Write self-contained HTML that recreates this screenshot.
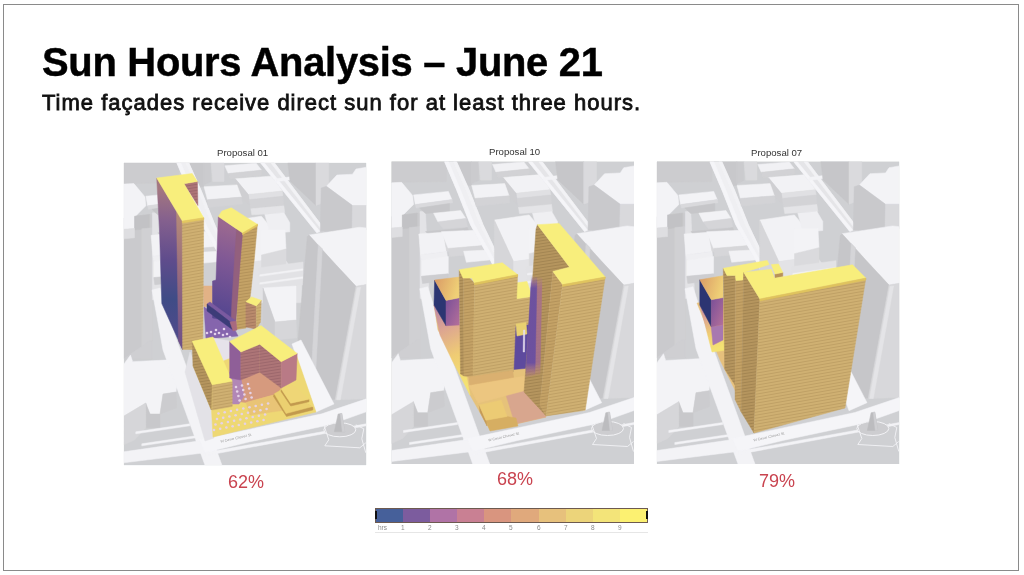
<!DOCTYPE html>
<html><head><meta charset="utf-8">
<style>
html,body{margin:0;padding:0;background:#fff;width:1024px;height:575px;overflow:hidden;}
body{position:relative;font-family:"Liberation Sans",Arial,sans-serif;}
.frame{position:absolute;left:3px;top:4px;width:1014px;height:565px;border:1px solid #8a8a8a;box-sizing:content-box;}
.ov{position:absolute;left:0;top:0;}
.t1{position:absolute;left:42px;top:41px;font-size:41.5px;letter-spacing:-0.3px;-webkit-text-stroke:0.45px #000;transform:scaleX(0.962);transform-origin:0 0;font-weight:bold;color:#000;white-space:nowrap;line-height:1;}
.t2{position:absolute;left:42px;top:92px;font-size:22px;letter-spacing:1.0px;font-weight:normal;-webkit-text-stroke:0.8px #111;color:#111;white-space:nowrap;line-height:1;}
.lbl{position:absolute;font-size:9.6px;color:#333;white-space:nowrap;line-height:1;}
.pct{position:absolute;font-size:18px;color:#c9434f;white-space:nowrap;line-height:1;}
.cb{position:absolute;left:375px;top:508px;width:273px;height:15px;display:flex;box-sizing:border-box;border:1px solid #6d5a50;}
.cb div{flex:1;}
.cbl{position:absolute;top:524.5px;font-size:6.5px;color:#8a8a8a;line-height:1;}
.cbline{position:absolute;left:375px;top:532px;width:273px;height:1px;background:#e6e6e6;}
</style></head><body>
<svg class="ov" width="1024" height="575" viewBox="0 0 1024 575"><defs>
<pattern id="tan" width="6" height="3" patternUnits="userSpaceOnUse" patternTransform="skewY(-10)"><rect width="6" height="3" fill="#cfb072"/><rect y="2" width="6" height="1" fill="#bfa065"/></pattern>
<pattern id="tan2" width="6" height="3" patternUnits="userSpaceOnUse" patternTransform="skewY(-9)"><rect width="6" height="3" fill="#c4a266"/><rect y="2" width="6" height="1" fill="#b3925a"/></pattern>
<pattern id="tanm" width="6" height="3" patternUnits="userSpaceOnUse" patternTransform="skewY(-9)"><rect width="6" height="3" fill="#ad7577"/><rect y="2" width="6" height="1" fill="#9c676c"/></pattern>
<linearGradient id="g1l" gradientUnits="userSpaceOnUse" x1="172" y1="190" x2="165" y2="330"><stop offset="0" stop-color="#a37680"/><stop offset="0.22" stop-color="#84608e"/><stop offset="0.5" stop-color="#5f4c8c"/><stop offset="0.78" stop-color="#3f4c86"/><stop offset="1" stop-color="#4c4a8a"/></linearGradient>
<linearGradient id="g1s" gradientUnits="userSpaceOnUse" x1="180" y1="215" x2="180" y2="345"><stop offset="0" stop-color="#b48a78"/><stop offset="0.5" stop-color="#94687e"/><stop offset="1" stop-color="#6e5088"/></linearGradient>
<linearGradient id="g2l" gradientUnits="userSpaceOnUse" x1="240" y1="230" x2="215" y2="310"><stop offset="0" stop-color="#9a6890"/><stop offset="0.4" stop-color="#7f5895"/><stop offset="1" stop-color="#574790"/></linearGradient>
<pattern id="tanb" width="6" height="3" patternUnits="userSpaceOnUse" patternTransform="skewY(-9)"><rect width="6" height="3" fill="#b98a6c"/><rect y="2" width="6" height="1" fill="#a67a60"/></pattern>
<pattern id="tand" width="6" height="3" patternUnits="userSpaceOnUse" patternTransform="skewY(-9)"><rect width="6" height="3" fill="#b5955e"/><rect y="2" width="6" height="1" fill="#a38552"/></pattern>
<linearGradient id="p2f" x1="0" y1="0" x2="1" y2="1"><stop offset="0" stop-color="#7a4f98"/><stop offset="1" stop-color="#b4709a"/></linearGradient>
<linearGradient id="p2r" x1="0" y1="0" x2="1" y2="0.3"><stop offset="0" stop-color="#d99a66"/><stop offset="1" stop-color="#efcf76"/></linearGradient>
<linearGradient id="p2p" x1="0" y1="0" x2="0" y2="1"><stop offset="0" stop-color="#8a5ea8" stop-opacity="0"/><stop offset="0.12" stop-color="#6a50a0" stop-opacity="0.95"/><stop offset="0.85" stop-color="#6a4fa0" stop-opacity="0.95"/><stop offset="1" stop-color="#b07090" stop-opacity="0"/></linearGradient>
<linearGradient id="p2m" x1="0" y1="0" x2="0" y2="1"><stop offset="0" stop-color="#b07a8a" stop-opacity="0"/><stop offset="0.12" stop-color="#a8708a" stop-opacity="0.85"/><stop offset="0.85" stop-color="#a06a90" stop-opacity="0.85"/><stop offset="1" stop-color="#c08080" stop-opacity="0"/></linearGradient>
<linearGradient id="p2pl" x1="0" y1="0" x2="0.2" y2="1"><stop offset="0" stop-color="#b884a8"/><stop offset="0.3" stop-color="#dca492"/><stop offset="0.65" stop-color="#efcc74"/><stop offset="1" stop-color="#f4e272"/></linearGradient>
<clipPath id="cp"><rect x="0" y="0" width="242.5" height="302.5"/></clipPath><clipPath id="cpp1"><rect x="123.8" y="162.8" width="242.5" height="302.5"/></clipPath><clipPath id="cpp2"><rect x="391.5" y="161.5" width="242.5" height="302.5"/></clipPath><clipPath id="cpp3"><rect x="656.8" y="161.5" width="242.5" height="302.5"/></clipPath></defs><g transform="translate(123.8,162.8)" clip-path="url(#cp)"><g><polygon points="0.0,0.0 242.5,0.0 242.5,302.5 0.0,302.5" fill="#cfd0d3" stroke="#cfd0d3" stroke-width="0.5" stroke-linejoin="round"/>
<polygon points="0.0,0.0 55.0,0.0 55.0,20.0 0.0,21.0" fill="#cccccf" stroke="#cccccf" stroke-width="0.5" stroke-linejoin="round"/>
<polygon points="0.0,55.2 11.7,53.4 26.0,51.5 28.5,52.0 28.5,196.0 0.0,196.0" fill="#cacacd" stroke="#cacacd" stroke-width="0.5" stroke-linejoin="round"/>
<polygon points="0.0,21.3 10.1,20.8 21.1,33.9 22.1,43.0 11.7,53.4 10.6,53.4 10.6,65.7 0.0,66.5" fill="#f3f3f6" stroke="#f3f3f6" stroke-width="0.5" stroke-linejoin="round"/>
<polygon points="10.8,53.4 25.6,51.7 25.6,65.6 10.8,67.3" fill="#c2c2c5" stroke="#c2c2c5" stroke-width="0.5" stroke-linejoin="round"/>
<polygon points="0.0,66.5 10.8,65.7 10.8,75.0 0.0,76.0" fill="#dedee1" stroke="#dedee1" stroke-width="0.5" stroke-linejoin="round"/>
<polygon points="18.0,66.0 28.5,65.0 28.5,196.0 18.0,196.0" fill="#d0d0d3" stroke="#d0d0d3" stroke-width="0.5" stroke-linejoin="round"/>
<polygon points="28.5,50.0 34.0,50.0 38.0,137.0 28.5,137.0" fill="#e3e3e6" stroke="#e3e3e6" stroke-width="0.5" stroke-linejoin="round"/>
<polygon points="55.0,0.0 80.0,0.0 80.0,24.0 64.0,24.0" fill="#c8c8cb" stroke="#c8c8cb" stroke-width="0.5" stroke-linejoin="round"/>
<polygon points="22.1,33.4 56.9,29.9 60.4,38.1 23.8,43.0" fill="#f3f3f6" stroke="#f3f3f6" stroke-width="0.5" stroke-linejoin="round"/>
<polygon points="23.8,43.0 60.4,38.1 61.2,41.2 24.7,46.5" fill="#d9d9dc" stroke="#d9d9dc" stroke-width="0.5" stroke-linejoin="round"/>
<polygon points="28.0,46.5 58.0,42.0 58.0,50.0 34.0,52.0" fill="#c6c6c9" stroke="#c6c6c9" stroke-width="0.5" stroke-linejoin="round"/>
<polygon points="42.1,51.7 69.1,49.1 74.3,56.9 46.5,60.4" fill="#f2f2f5" stroke="#f2f2f5" stroke-width="0.5" stroke-linejoin="round"/>
<polygon points="46.5,60.4 74.3,56.9 76.0,65.6 51.7,67.3" fill="#d5d5d8" stroke="#d5d5d8" stroke-width="0.5" stroke-linejoin="round"/>
<polygon points="34.0,70.0 70.0,67.0 76.0,66.0 78.0,72.0 40.0,75.0" fill="#c8c8cb" stroke="#c8c8cb" stroke-width="0.5" stroke-linejoin="round"/>
<polygon points="27.3,72.5 51.7,70.8 55.2,89.9 29.1,93.4" fill="#f2f2f5" stroke="#f2f2f5" stroke-width="0.5" stroke-linejoin="round"/>
<polygon points="51.7,70.8 72.0,69.0 76.0,88.0 55.2,89.9" fill="#d8d8db" stroke="#d8d8db" stroke-width="0.5" stroke-linejoin="round"/>
<polygon points="49.9,70.2 84.7,68.8 91.6,84.1 56.8,86.9" fill="#f3f3f6" stroke="#f3f3f6" stroke-width="0.5" stroke-linejoin="round"/>
<polygon points="56.8,86.9 91.6,84.1 92.0,92.0 58.0,95.0" fill="#d6d6d9" stroke="#d6d6d9" stroke-width="0.5" stroke-linejoin="round"/>
<polygon points="72.1,89.7 100.0,88.3 102.7,98.0 74.9,100.8" fill="#f2f2f5" stroke="#f2f2f5" stroke-width="0.5" stroke-linejoin="round"/>
<polygon points="29.1,93.4 55.2,89.9 56.0,96.0 30.0,99.0" fill="#efeff2" stroke="#efeff2" stroke-width="0.5" stroke-linejoin="round"/>
<polygon points="30.0,99.0 56.8,95.0 56.8,112.3 30.0,114.7" fill="#f2f2f5" stroke="#f2f2f5" stroke-width="0.5" stroke-linejoin="round"/>
<polygon points="30.0,114.7 56.8,112.3 56.8,119.0 31.0,122.0" fill="#cdcdd0" stroke="#cdcdd0" stroke-width="0.5" stroke-linejoin="round"/>
<polygon points="53.0,0.0 65.0,0.0 77.7,28.5 91.6,63.3 108.3,98.0 120.0,122.0 112.0,125.0 98.6,98.0 79.0,63.3 65.2,28.5" fill="#efeff2" stroke="#efeff2" stroke-width="0.5" stroke-linejoin="round"/>
<polygon points="53.0,0.0 57.0,0.0 69.0,28.5 83.0,63.3 102.6,98.0 116.0,125.0 112.0,125.0 98.6,98.0 79.0,63.3 65.2,28.5" fill="#f5f5f8" stroke="#f5f5f8" stroke-width="0.5" stroke-linejoin="round"/>
<polygon points="62.0,0.0 65.0,0.0 77.7,28.5 91.6,63.3 108.3,98.0 120.0,122.0 117.0,122.0 105.5,98.0 88.6,63.3 74.7,28.5" fill="#f2f2f5" stroke="#f2f2f5" stroke-width="0.5" stroke-linejoin="round"/>
<polygon points="80.0,0.0 87.0,0.0 87.0,19.0 80.0,22.0" fill="#cbcbce" stroke="#cbcbce" stroke-width="0.5" stroke-linejoin="round"/>
<polygon points="87.2,0.0 100.2,0.0 100.2,18.6 88.9,18.6" fill="#dadadd" stroke="#dadadd" stroke-width="0.5" stroke-linejoin="round"/>
<polygon points="101.0,3.0 132.4,0.4 137.6,7.3 104.5,10.8" fill="#f1f1f4" stroke="#f1f1f4" stroke-width="0.5" stroke-linejoin="round"/>
<polygon points="104.5,10.8 137.6,7.3 137.6,12.5 106.3,16.0" fill="#d2d2d5" stroke="#d2d2d5" stroke-width="0.5" stroke-linejoin="round"/>
<polygon points="111.5,16.0 149.8,13.1 158.5,28.2 124.5,31.7" fill="#f2f2f5" stroke="#f2f2f5" stroke-width="0.5" stroke-linejoin="round"/>
<polygon points="124.5,31.7 158.5,28.2 159.3,33.4 125.4,36.9" fill="#e0e0e3" stroke="#e0e0e3" stroke-width="0.5" stroke-linejoin="round"/>
<polygon points="111.5,16.0 124.5,31.7 125.4,36.9 126.0,43.0 112.0,30.0" fill="#cfcfd2" stroke="#cfcfd2" stroke-width="0.5" stroke-linejoin="round"/>
<polygon points="125.4,36.9 159.3,33.4 160.0,43.0 127.0,46.0" fill="#d3d3d6" stroke="#d3d3d6" stroke-width="0.5" stroke-linejoin="round"/>
<polygon points="80.2,23.9 113.2,22.1 117.6,34.3 83.7,36.9" fill="#f2f2f5" stroke="#f2f2f5" stroke-width="0.5" stroke-linejoin="round"/>
<polygon points="83.7,36.9 117.6,34.3 118.5,41.2 84.5,44.7" fill="#d3d3d6" stroke="#d3d3d6" stroke-width="0.5" stroke-linejoin="round"/>
<polygon points="127.0,46.0 160.0,43.0 161.0,50.0 128.0,52.0" fill="#e4e4e7" stroke="#e4e4e7" stroke-width="0.5" stroke-linejoin="round"/>
<polygon points="102.8,58.6 137.6,53.4 160.0,80.0 160.0,95.0 122.0,100.0" fill="#f2f2f5" stroke="#f2f2f5" stroke-width="0.5" stroke-linejoin="round"/>
<polygon points="102.8,58.6 122.0,100.0 122.0,140.0 103.0,110.0" fill="#d6d6d9" stroke="#d6d6d9" stroke-width="0.5" stroke-linejoin="round"/>
<polygon points="122.0,100.0 160.0,95.0 178.0,120.0 178.0,140.0 122.0,140.0" fill="#e3e3e6" stroke="#e3e3e6" stroke-width="0.5" stroke-linejoin="round"/>
<polygon points="141.0,51.7 160.2,50.0 166.0,60.0 166.0,69.0 146.3,70.8" fill="#efeff2" stroke="#efeff2" stroke-width="0.5" stroke-linejoin="round"/>
<polygon points="137.7,67.2 161.2,67.2 162.2,86.2 137.7,92.2" fill="#f3f3f6" stroke="#f3f3f6" stroke-width="0.5" stroke-linejoin="round"/>
<polygon points="137.7,92.2 162.2,86.2 162.2,105.2 137.7,113.2" fill="#dadadd" stroke="#dadadd" stroke-width="0.5" stroke-linejoin="round"/>
<polygon points="134.2,105.2 179.2,99.2 179.2,122.2 136.2,125.2" fill="#e2e2e5" stroke="#e2e2e5" stroke-width="0.5" stroke-linejoin="round"/>
<polygon points="136.0,112.0 179.0,106.0 179.0,107.5 136.0,113.5" fill="#f2f2f5" stroke="#f2f2f5" stroke-width="0.5" stroke-linejoin="round"/>
<polygon points="136.0,120.0 179.0,114.0 179.0,115.5 136.0,121.5" fill="#f2f2f5" stroke="#f2f2f5" stroke-width="0.5" stroke-linejoin="round"/>
<polygon points="139.2,125.2 172.2,123.2 172.2,157.2 151.2,159.2" fill="#f3f3f6" stroke="#f3f3f6" stroke-width="0.5" stroke-linejoin="round"/>
<polygon points="139.2,125.2 151.2,159.2 151.2,177.2 139.2,167.2" fill="#cdcdd0" stroke="#cdcdd0" stroke-width="0.5" stroke-linejoin="round"/>
<polygon points="151.2,159.2 172.2,157.2 173.0,175.0 151.2,177.2" fill="#d6d6d9" stroke="#d6d6d9" stroke-width="0.5" stroke-linejoin="round"/>
<polygon points="136.7,0.0 150.6,0.0 202.0,68.0 193.0,70.0" fill="#e5e5e8" stroke="#e5e5e8" stroke-width="0.5" stroke-linejoin="round"/>
<polygon points="136.7,0.0 140.5,0.0 196.0,68.5 193.0,70.0" fill="#f5f5f8" stroke="#f5f5f8" stroke-width="0.5" stroke-linejoin="round"/>
<polygon points="147.0,0.0 150.6,0.0 202.0,68.0 199.0,68.5" fill="#f2f2f5" stroke="#f2f2f5" stroke-width="0.5" stroke-linejoin="round"/>
<polygon points="152.0,16.0 174.0,13.0 174.0,16.0 152.0,19.0" fill="#f3f3f6" stroke="#f3f3f6" stroke-width="0.5" stroke-linejoin="round"/>
<polygon points="164.0,0.0 192.2,0.0 192.2,42.7 166.2,18.2" fill="#c6c6c9" stroke="#c6c6c9" stroke-width="0.5" stroke-linejoin="round"/>
<polygon points="192.2,0.0 205.0,0.0 205.0,38.0 192.2,42.7" fill="#dadadd" stroke="#dadadd" stroke-width="0.5" stroke-linejoin="round"/>
<polygon points="202.6,23.5 213.1,12.2 228.7,11.4 232.2,6.2 242.5,4.4 242.5,42.7 228.7,42.7" fill="#f3f3f6" stroke="#f3f3f6" stroke-width="0.5" stroke-linejoin="round"/>
<polygon points="197.4,25.2 202.6,23.5 228.7,42.7 228.2,69.2 196.5,68.8" fill="#c9c9cc" stroke="#c9c9cc" stroke-width="0.5" stroke-linejoin="round"/>
<polygon points="228.7,42.7 242.5,42.7 242.5,67.0 228.2,69.2" fill="#d9d9dc" stroke="#d9d9dc" stroke-width="0.5" stroke-linejoin="round"/>
<polygon points="185.2,72.2 235.7,64.4 242.5,65.2 242.5,121.8 232.2,123.5 209.6,99.2" fill="#f3f3f6" stroke="#f3f3f6" stroke-width="0.5" stroke-linejoin="round"/>
<polygon points="183.5,74.0 185.2,72.2 209.6,99.2 232.2,123.5 232.2,235.0 207.8,236.8 175.2,199.2 173.2,187.2" fill="#c6c6c9" stroke="#c6c6c9" stroke-width="0.5" stroke-linejoin="round"/>
<polygon points="194.5,82.0 198.5,86.0 190.5,236.0 186.5,230.0" fill="#d5d5d8" stroke="#d5d5d8" stroke-width="0.5" stroke-linejoin="round"/>
<polygon points="232.2,123.5 242.5,121.8 242.5,236.0 211.4,237.0" fill="#d8d8db" stroke="#d8d8db" stroke-width="0.5" stroke-linejoin="round"/>
<polygon points="233.2,125.0 236.8,124.5 216.5,237.0 212.8,237.0" fill="#e4e4e7" stroke="#e4e4e7" stroke-width="0.5" stroke-linejoin="round"/>
<polygon points="0.0,196.0 28.5,196.0 28.5,178.0 26.0,178.0" fill="#cfcfd2" stroke="#cfcfd2" stroke-width="0.5" stroke-linejoin="round"/>
<polygon points="0.2,201.2 6.7,192.2 8.9,198.9 50.2,196.8 53.5,216.2 52.2,229.2 39.2,231.2 36.2,251.2 26.2,251.2 21.9,240.2 0.2,253.2" fill="#f3f3f6" stroke="#f3f3f6" stroke-width="0.5" stroke-linejoin="round"/>
<polygon points="21.9,240.2 26.2,251.2 36.2,251.2 36.2,265.0 22.0,265.0" fill="#c8c8cb" stroke="#c8c8cb" stroke-width="0.5" stroke-linejoin="round"/>
<polygon points="39.2,231.2 52.2,229.2 53.0,245.0 36.2,251.2" fill="#cccccf" stroke="#cccccf" stroke-width="0.5" stroke-linejoin="round"/>
<polygon points="0.2,253.2 21.9,240.2 22.0,265.0 11.0,277.0 0.0,282.0" fill="#d6d6d9" stroke="#d6d6d9" stroke-width="0.5" stroke-linejoin="round"/>
<polygon points="12.0,269.0 66.0,261.0 66.0,263.0 12.0,271.0" fill="#f3f3f6" stroke="#f3f3f6" stroke-width="0.5" stroke-linejoin="round"/>
<polygon points="18.0,281.0 72.0,273.0 72.0,275.0 18.0,283.0" fill="#f3f3f6" stroke="#f3f3f6" stroke-width="0.5" stroke-linejoin="round"/>
<polygon points="28.2,127.2 36.2,125.2 52.2,175.2 98.2,302.5 81.2,302.5 39.2,187.2" fill="#f3f3f6" stroke="#f3f3f6" stroke-width="0.5" stroke-linejoin="round"/>
<polygon points="72.0,278.0 198.0,251.0 242.5,236.0 242.5,249.0 206.0,262.0 126.0,279.0 81.0,290.0" fill="#f5f5f8" stroke="#f5f5f8" stroke-width="0.5" stroke-linejoin="round"/>
<polygon points="0.0,289.0 76.0,278.0 81.0,290.0 0.0,300.0" fill="#f3f3f6" stroke="#f3f3f6" stroke-width="0.5" stroke-linejoin="round"/>
<polygon points="81.0,290.0 242.5,261.0 242.5,263.0 81.0,293.0" fill="#f3f3f6" stroke="#f3f3f6" stroke-width="0.5" stroke-linejoin="round"/>
<polygon points="168.2,181.2 177.2,177.2 210.2,241.2 192.2,249.2" fill="#f5f5f8" stroke="#f5f5f8" stroke-width="0.5" stroke-linejoin="round"/>
<ellipse cx="216" cy="267" rx="16" ry="7" fill="#cdcdd0" stroke="#f3f3f6" stroke-width="1"/>
<polyline points="200,262 205,277 201,283 236,285 242,280" fill="none" stroke="#f3f3f6" stroke-width="0.9"/>
<polyline points="232,262 240,266 238,276 242,290" fill="none" stroke="#f3f3f6" stroke-width="0.9"/>
<polygon points="210.5,269.0 214.3,251.2 218.0,250.6 221.0,269.0" fill="#bcbcbf" stroke="#bcbcbf" stroke-width="0.5" stroke-linejoin="round"/>
<polygon points="216.5,251.0 218.0,250.6 221.0,269.0 218.5,269.0" fill="#cfcfd2" stroke="#cfcfd2" stroke-width="0.5" stroke-linejoin="round"/>
<text x="97" y="280" transform="rotate(-13 97 280)" font-size="3.6" fill="#999" font-family="Liberation Sans, sans-serif">W Cesar Chavez St</text></g></g>
<g clip-path="url(#cpp1)"><polygon points="190.0,352.0 212.0,405.0 214.0,438.0 205.0,441.0 185.0,372.0" fill="#e3e2e7" stroke="#e3e2e7" stroke-width="0.5" stroke-linejoin="round"/>
<polygon points="193.0,365.0 230.0,352.0 296.0,354.0 316.0,412.0 213.0,437.0 211.5,410.0" fill="#eed874" stroke="#eed874" stroke-width="0.5" stroke-linejoin="round"/>
<polygon points="231.0,368.0 259.7,372.2 281.2,388.0 277.0,394.0 246.0,402.5 233.0,401.0" fill="#d69a7e" stroke="#d69a7e" stroke-width="0.5" stroke-linejoin="round"/>
<polygon points="246.0,402.5 277.0,394.0 281.0,392.0 286.0,410.0 250.0,415.0" fill="#e9c476" stroke="#e9c476" stroke-width="0.5" stroke-linejoin="round"/>
<polygon points="203.0,286.0 212.5,286.0 212.5,305.0 204.0,307.0" fill="#e2b286" stroke="#e2b286" stroke-width="0.5" stroke-linejoin="round"/>
<polygon points="204.0,307.0 233.0,326.0 238.0,336.0 206.0,339.0" fill="#8565ad" stroke="#8565ad" stroke-width="0.5" stroke-linejoin="round"/>
<polygon points="229.7,372.0 241.0,378.0 244.0,396.0 239.0,404.0 232.0,404.0 230.0,390.0" fill="#b287b6" stroke="#b287b6" stroke-width="0.5" stroke-linejoin="round"/>
<polygon points="213.0,338.0 229.6,341.0 229.7,358.0 222.0,361.0 216.0,348.0" fill="#e6e2ea" stroke="#e6e2ea" stroke-width="0.5" stroke-linejoin="round"/>
<polygon points="273.8,394.5 281.3,390.0 313.0,407.5 312.8,410.0 286.5,416.5 273.5,396.5" fill="#c29a4e" stroke="#c29a4e" stroke-width="0.5" stroke-linejoin="round"/>
<polygon points="274.3,393.8 281.3,389.8 312.6,406.5 286.0,413.5" fill="#ebd070" stroke="#ebd070" stroke-width="0.5" stroke-linejoin="round"/>
<polygon points="281.3,389.1 290.7,403.2 309.0,399.3 309.0,401.8 290.7,406.0 281.0,391.5" fill="#c29a4e" stroke="#c29a4e" stroke-width="0.5" stroke-linejoin="round"/>
<polygon points="281.3,389.1 293.8,385.2 308.7,399.3 290.7,403.2" fill="#efd676" stroke="#efd676" stroke-width="0.5" stroke-linejoin="round"/>
<polygon points="156.7,178.0 182.3,221.1 182.6,349.5 161.8,303.6 159.5,230.0" fill="url(#g1l)" stroke="url(#g1l)" stroke-width="0.5" stroke-linejoin="round"/>
<polygon points="176.5,212.0 182.3,221.1 182.6,349.5 178.5,341.0" fill="url(#g1s)" stroke="url(#g1s)" stroke-width="0.5" stroke-linejoin="round"/>
<polygon points="182.3,221.1 203.7,217.7 202.8,349.5 182.6,349.5" fill="url(#tan)" stroke="url(#tan)" stroke-width="0.5" stroke-linejoin="round"/>
<polygon points="184.0,183.7 197.4,181.5 197.9,205.5" fill="url(#tanm)" stroke="url(#tanm)" stroke-width="0.5" stroke-linejoin="round"/>
<polygon points="156.7,178.0 192.2,173.5 197.4,181.5 184.0,183.7 203.7,217.7 182.3,221.1" fill="#f8ee7c" stroke="#f8ee7c" stroke-width="0.5" stroke-linejoin="round"/>
<polygon points="182.3,221.1 203.7,217.7 203.7,219.5 182.3,223.0" fill="#e4c860" stroke="#e4c860" stroke-width="0.5" stroke-linejoin="round"/>
<polygon points="218.3,216.5 242.6,233.0 240.3,260.0 237.4,300.0 235.6,321.7 212.5,318.0 212.5,281.0 216.0,280.0" fill="url(#g2l)" stroke="url(#g2l)" stroke-width="0.5" stroke-linejoin="round"/>
<polygon points="242.6,233.0 257.4,224.3 254.2,260.0 250.8,292.0 246.0,328.0 236.0,329.5 237.4,300.0 240.3,260.0" fill="url(#tan2)" stroke="url(#tan2)" stroke-width="0.5" stroke-linejoin="round"/>
<polygon points="236.5,229.0 242.6,233.0 240.3,260.0 237.4,300.0 235.6,321.7 231.0,322.0 232.0,300.0 234.5,260.0" fill="#93607e" stroke="#93607e" stroke-width="0.5" stroke-linejoin="round"/>
<polygon points="218.3,216.5 222.0,211.0 231.3,207.8 257.4,224.3 252.0,228.0 242.6,233.0" fill="#f8ee7c" stroke="#f8ee7c" stroke-width="0.5" stroke-linejoin="round"/>
<polygon points="242.6,233.0 257.4,224.3 257.3,226.0 242.5,234.8" fill="#e4c860" stroke="#e4c860" stroke-width="0.5" stroke-linejoin="round"/>
<polygon points="207.0,304.0 210.0,302.0 236.0,321.0 233.0,324.0" fill="#7a5aa0" stroke="#7a5aa0" stroke-width="0.5" stroke-linejoin="round"/>
<polygon points="207.0,304.0 233.0,324.0 233.0,330.0 207.0,311.0" fill="#3c3c78" stroke="#3c3c78" stroke-width="0.5" stroke-linejoin="round"/>
<polygon points="230.0,322.0 236.0,321.0 237.0,330.0 233.0,331.0" fill="#a86a80" stroke="#a86a80" stroke-width="0.5" stroke-linejoin="round"/>
<polygon points="245.9,301.7 256.3,305.9 256.3,329.0 245.9,327.0" fill="url(#tanb)" stroke="url(#tanb)" stroke-width="0.5" stroke-linejoin="round"/>
<polygon points="256.3,305.9 261.2,300.3 260.5,322.0 256.3,329.0" fill="url(#tan)" stroke="url(#tan)" stroke-width="0.5" stroke-linejoin="round"/>
<polygon points="245.9,301.7 251.5,296.9 261.2,300.3 256.3,305.9" fill="#f8ee7c" stroke="#f8ee7c" stroke-width="0.5" stroke-linejoin="round"/>
<polygon points="192.2,341.3 212.2,384.8 211.3,410.0 193.0,366.0" fill="url(#tand)" stroke="url(#tand)" stroke-width="0.5" stroke-linejoin="round"/>
<polygon points="212.2,384.8 232.2,381.3 232.2,406.5 212.2,410.0" fill="url(#tan)" stroke="url(#tan)" stroke-width="0.5" stroke-linejoin="round"/>
<polygon points="192.2,341.3 213.0,337.0 232.2,381.3 212.2,384.8" fill="#f8ee7c" stroke="#f8ee7c" stroke-width="0.5" stroke-linejoin="round"/>
<polygon points="229.7,341.6 240.9,352.0 240.9,380.0 229.7,378.0" fill="#8f5f98" stroke="#8f5f98" stroke-width="0.5" stroke-linejoin="round"/>
<polygon points="240.9,352.0 259.7,344.3 259.7,372.2 240.9,380.0" fill="url(#tanm)" stroke="url(#tanm)" stroke-width="0.5" stroke-linejoin="round"/>
<polygon points="259.7,344.3 281.2,361.7 281.2,388.0 259.7,372.2" fill="url(#tanm)" stroke="url(#tanm)" stroke-width="0.5" stroke-linejoin="round"/>
<polygon points="281.2,361.7 297.2,353.4 296.0,380.0 281.2,388.0" fill="#b97a86" stroke="#b97a86" stroke-width="0.5" stroke-linejoin="round"/>
<polygon points="229.7,341.6 261.0,325.6 297.2,353.4 281.2,361.7 259.7,344.3 240.9,352.0" fill="#f8ee7c" stroke="#f8ee7c" stroke-width="0.5" stroke-linejoin="round"/>
<circle cx="207" cy="333" r="1.3" fill="#e4d2ec"/>
<circle cx="211" cy="332" r="1.3" fill="#e4d2ec"/>
<circle cx="215" cy="334" r="1.3" fill="#e4d2ec"/>
<circle cx="219" cy="333" r="1.3" fill="#e4d2ec"/>
<circle cx="223" cy="335" r="1.3" fill="#e4d2ec"/>
<circle cx="227" cy="334" r="1.3" fill="#e4d2ec"/>
<circle cx="216" cy="330" r="1.3" fill="#e4d2ec"/>
<circle cx="224" cy="329" r="1.3" fill="#e4d2ec"/>
<circle cx="230" cy="337" r="1.3" fill="#e4d2ec"/>
<circle cx="214.0" cy="430.0" r="1.3" fill="#e6d2e6"/>
<circle cx="220.2" cy="428.8" r="1.3" fill="#e6d2e6"/>
<circle cx="226.4" cy="427.5" r="1.3" fill="#e6d2e6"/>
<circle cx="232.6" cy="426.2" r="1.3" fill="#e6d2e6"/>
<circle cx="238.8" cy="425.0" r="1.3" fill="#e6d2e6"/>
<circle cx="245.0" cy="423.8" r="1.3" fill="#e6d2e6"/>
<circle cx="251.2" cy="422.5" r="1.3" fill="#e6d2e6"/>
<circle cx="257.4" cy="421.2" r="1.3" fill="#e6d2e6"/>
<circle cx="263.6" cy="420.0" r="1.3" fill="#e6d2e6"/>
<circle cx="215.5" cy="424.5" r="1.3" fill="#e6d2e6"/>
<circle cx="221.7" cy="423.2" r="1.3" fill="#e6d2e6"/>
<circle cx="227.9" cy="422.0" r="1.3" fill="#e6d2e6"/>
<circle cx="234.1" cy="420.8" r="1.3" fill="#e6d2e6"/>
<circle cx="240.3" cy="419.5" r="1.3" fill="#e6d2e6"/>
<circle cx="246.5" cy="418.2" r="1.3" fill="#e6d2e6"/>
<circle cx="252.7" cy="417.0" r="1.3" fill="#e6d2e6"/>
<circle cx="258.9" cy="415.8" r="1.3" fill="#e6d2e6"/>
<circle cx="265.1" cy="414.5" r="1.3" fill="#e6d2e6"/>
<circle cx="217.0" cy="419.0" r="1.3" fill="#e6d2e6"/>
<circle cx="223.2" cy="417.8" r="1.3" fill="#e6d2e6"/>
<circle cx="229.4" cy="416.5" r="1.3" fill="#e6d2e6"/>
<circle cx="235.6" cy="415.2" r="1.3" fill="#e6d2e6"/>
<circle cx="241.8" cy="414.0" r="1.3" fill="#e6d2e6"/>
<circle cx="248.0" cy="412.8" r="1.3" fill="#e6d2e6"/>
<circle cx="254.2" cy="411.5" r="1.3" fill="#e6d2e6"/>
<circle cx="260.4" cy="410.2" r="1.3" fill="#e6d2e6"/>
<circle cx="266.6" cy="409.0" r="1.3" fill="#e6d2e6"/>
<circle cx="218.5" cy="413.5" r="1.3" fill="#e6d2e6"/>
<circle cx="224.7" cy="412.2" r="1.3" fill="#e6d2e6"/>
<circle cx="230.9" cy="411.0" r="1.3" fill="#e6d2e6"/>
<circle cx="237.1" cy="409.8" r="1.3" fill="#e6d2e6"/>
<circle cx="243.3" cy="408.5" r="1.3" fill="#e6d2e6"/>
<circle cx="249.5" cy="407.2" r="1.3" fill="#e6d2e6"/>
<circle cx="255.7" cy="406.0" r="1.3" fill="#e6d2e6"/>
<circle cx="261.9" cy="404.8" r="1.3" fill="#e6d2e6"/>
<circle cx="268.1" cy="403.5" r="1.3" fill="#e6d2e6"/>
<circle cx="236.0" cy="387.0" r="1.3" fill="#e6d2e6"/>
<circle cx="242.0" cy="385.5" r="1.3" fill="#e6d2e6"/>
<circle cx="248.0" cy="384.0" r="1.3" fill="#e6d2e6"/>
<circle cx="237.2" cy="391.5" r="1.3" fill="#e6d2e6"/>
<circle cx="243.2" cy="390.0" r="1.3" fill="#e6d2e6"/>
<circle cx="249.2" cy="388.5" r="1.3" fill="#e6d2e6"/>
<circle cx="238.4" cy="396.0" r="1.3" fill="#e6d2e6"/>
<circle cx="244.4" cy="394.5" r="1.3" fill="#e6d2e6"/>
<circle cx="250.4" cy="393.0" r="1.3" fill="#e6d2e6"/>
<circle cx="239.6" cy="400.5" r="1.3" fill="#e6d2e6"/>
<circle cx="245.6" cy="399.0" r="1.3" fill="#e6d2e6"/>
<circle cx="251.6" cy="397.5" r="1.3" fill="#e6d2e6"/></g>
<g transform="translate(391.5,161.5)" clip-path="url(#cp)"><g><polygon points="0.0,0.0 242.5,0.0 242.5,302.5 0.0,302.5" fill="#cfd0d3" stroke="#cfd0d3" stroke-width="0.5" stroke-linejoin="round"/>
<polygon points="0.0,0.0 55.0,0.0 55.0,20.0 0.0,21.0" fill="#cccccf" stroke="#cccccf" stroke-width="0.5" stroke-linejoin="round"/>
<polygon points="0.0,55.2 11.7,53.4 26.0,51.5 28.5,52.0 28.5,196.0 0.0,196.0" fill="#cacacd" stroke="#cacacd" stroke-width="0.5" stroke-linejoin="round"/>
<polygon points="0.0,21.3 10.1,20.8 21.1,33.9 22.1,43.0 11.7,53.4 10.6,53.4 10.6,65.7 0.0,66.5" fill="#f3f3f6" stroke="#f3f3f6" stroke-width="0.5" stroke-linejoin="round"/>
<polygon points="10.8,53.4 25.6,51.7 25.6,65.6 10.8,67.3" fill="#c2c2c5" stroke="#c2c2c5" stroke-width="0.5" stroke-linejoin="round"/>
<polygon points="0.0,66.5 10.8,65.7 10.8,75.0 0.0,76.0" fill="#dedee1" stroke="#dedee1" stroke-width="0.5" stroke-linejoin="round"/>
<polygon points="18.0,66.0 28.5,65.0 28.5,196.0 18.0,196.0" fill="#d0d0d3" stroke="#d0d0d3" stroke-width="0.5" stroke-linejoin="round"/>
<polygon points="28.5,50.0 34.0,50.0 38.0,137.0 28.5,137.0" fill="#e3e3e6" stroke="#e3e3e6" stroke-width="0.5" stroke-linejoin="round"/>
<polygon points="55.0,0.0 80.0,0.0 80.0,24.0 64.0,24.0" fill="#c8c8cb" stroke="#c8c8cb" stroke-width="0.5" stroke-linejoin="round"/>
<polygon points="22.1,33.4 56.9,29.9 60.4,38.1 23.8,43.0" fill="#f3f3f6" stroke="#f3f3f6" stroke-width="0.5" stroke-linejoin="round"/>
<polygon points="23.8,43.0 60.4,38.1 61.2,41.2 24.7,46.5" fill="#d9d9dc" stroke="#d9d9dc" stroke-width="0.5" stroke-linejoin="round"/>
<polygon points="28.0,46.5 58.0,42.0 58.0,50.0 34.0,52.0" fill="#c6c6c9" stroke="#c6c6c9" stroke-width="0.5" stroke-linejoin="round"/>
<polygon points="42.1,51.7 69.1,49.1 74.3,56.9 46.5,60.4" fill="#f2f2f5" stroke="#f2f2f5" stroke-width="0.5" stroke-linejoin="round"/>
<polygon points="46.5,60.4 74.3,56.9 76.0,65.6 51.7,67.3" fill="#d5d5d8" stroke="#d5d5d8" stroke-width="0.5" stroke-linejoin="round"/>
<polygon points="34.0,70.0 70.0,67.0 76.0,66.0 78.0,72.0 40.0,75.0" fill="#c8c8cb" stroke="#c8c8cb" stroke-width="0.5" stroke-linejoin="round"/>
<polygon points="27.3,72.5 51.7,70.8 55.2,89.9 29.1,93.4" fill="#f2f2f5" stroke="#f2f2f5" stroke-width="0.5" stroke-linejoin="round"/>
<polygon points="51.7,70.8 72.0,69.0 76.0,88.0 55.2,89.9" fill="#d8d8db" stroke="#d8d8db" stroke-width="0.5" stroke-linejoin="round"/>
<polygon points="49.9,70.2 84.7,68.8 91.6,84.1 56.8,86.9" fill="#f3f3f6" stroke="#f3f3f6" stroke-width="0.5" stroke-linejoin="round"/>
<polygon points="56.8,86.9 91.6,84.1 92.0,92.0 58.0,95.0" fill="#d6d6d9" stroke="#d6d6d9" stroke-width="0.5" stroke-linejoin="round"/>
<polygon points="72.1,89.7 100.0,88.3 102.7,98.0 74.9,100.8" fill="#f2f2f5" stroke="#f2f2f5" stroke-width="0.5" stroke-linejoin="round"/>
<polygon points="29.1,93.4 55.2,89.9 56.0,96.0 30.0,99.0" fill="#efeff2" stroke="#efeff2" stroke-width="0.5" stroke-linejoin="round"/>
<polygon points="30.0,99.0 56.8,95.0 56.8,112.3 30.0,114.7" fill="#f2f2f5" stroke="#f2f2f5" stroke-width="0.5" stroke-linejoin="round"/>
<polygon points="30.0,114.7 56.8,112.3 56.8,119.0 31.0,122.0" fill="#cdcdd0" stroke="#cdcdd0" stroke-width="0.5" stroke-linejoin="round"/>
<polygon points="53.0,0.0 65.0,0.0 77.7,28.5 91.6,63.3 108.3,98.0 120.0,122.0 112.0,125.0 98.6,98.0 79.0,63.3 65.2,28.5" fill="#efeff2" stroke="#efeff2" stroke-width="0.5" stroke-linejoin="round"/>
<polygon points="53.0,0.0 57.0,0.0 69.0,28.5 83.0,63.3 102.6,98.0 116.0,125.0 112.0,125.0 98.6,98.0 79.0,63.3 65.2,28.5" fill="#f5f5f8" stroke="#f5f5f8" stroke-width="0.5" stroke-linejoin="round"/>
<polygon points="62.0,0.0 65.0,0.0 77.7,28.5 91.6,63.3 108.3,98.0 120.0,122.0 117.0,122.0 105.5,98.0 88.6,63.3 74.7,28.5" fill="#f2f2f5" stroke="#f2f2f5" stroke-width="0.5" stroke-linejoin="round"/>
<polygon points="80.0,0.0 87.0,0.0 87.0,19.0 80.0,22.0" fill="#cbcbce" stroke="#cbcbce" stroke-width="0.5" stroke-linejoin="round"/>
<polygon points="87.2,0.0 100.2,0.0 100.2,18.6 88.9,18.6" fill="#dadadd" stroke="#dadadd" stroke-width="0.5" stroke-linejoin="round"/>
<polygon points="101.0,3.0 132.4,0.4 137.6,7.3 104.5,10.8" fill="#f1f1f4" stroke="#f1f1f4" stroke-width="0.5" stroke-linejoin="round"/>
<polygon points="104.5,10.8 137.6,7.3 137.6,12.5 106.3,16.0" fill="#d2d2d5" stroke="#d2d2d5" stroke-width="0.5" stroke-linejoin="round"/>
<polygon points="111.5,16.0 149.8,13.1 158.5,28.2 124.5,31.7" fill="#f2f2f5" stroke="#f2f2f5" stroke-width="0.5" stroke-linejoin="round"/>
<polygon points="124.5,31.7 158.5,28.2 159.3,33.4 125.4,36.9" fill="#e0e0e3" stroke="#e0e0e3" stroke-width="0.5" stroke-linejoin="round"/>
<polygon points="111.5,16.0 124.5,31.7 125.4,36.9 126.0,43.0 112.0,30.0" fill="#cfcfd2" stroke="#cfcfd2" stroke-width="0.5" stroke-linejoin="round"/>
<polygon points="125.4,36.9 159.3,33.4 160.0,43.0 127.0,46.0" fill="#d3d3d6" stroke="#d3d3d6" stroke-width="0.5" stroke-linejoin="round"/>
<polygon points="80.2,23.9 113.2,22.1 117.6,34.3 83.7,36.9" fill="#f2f2f5" stroke="#f2f2f5" stroke-width="0.5" stroke-linejoin="round"/>
<polygon points="83.7,36.9 117.6,34.3 118.5,41.2 84.5,44.7" fill="#d3d3d6" stroke="#d3d3d6" stroke-width="0.5" stroke-linejoin="round"/>
<polygon points="127.0,46.0 160.0,43.0 161.0,50.0 128.0,52.0" fill="#e4e4e7" stroke="#e4e4e7" stroke-width="0.5" stroke-linejoin="round"/>
<polygon points="102.8,58.6 137.6,53.4 160.0,80.0 160.0,95.0 122.0,100.0" fill="#f2f2f5" stroke="#f2f2f5" stroke-width="0.5" stroke-linejoin="round"/>
<polygon points="102.8,58.6 122.0,100.0 122.0,140.0 103.0,110.0" fill="#d6d6d9" stroke="#d6d6d9" stroke-width="0.5" stroke-linejoin="round"/>
<polygon points="122.0,100.0 160.0,95.0 178.0,120.0 178.0,140.0 122.0,140.0" fill="#e3e3e6" stroke="#e3e3e6" stroke-width="0.5" stroke-linejoin="round"/>
<polygon points="141.0,51.7 160.2,50.0 166.0,60.0 166.0,69.0 146.3,70.8" fill="#efeff2" stroke="#efeff2" stroke-width="0.5" stroke-linejoin="round"/>
<polygon points="137.7,67.2 161.2,67.2 162.2,86.2 137.7,92.2" fill="#f3f3f6" stroke="#f3f3f6" stroke-width="0.5" stroke-linejoin="round"/>
<polygon points="137.7,92.2 162.2,86.2 162.2,105.2 137.7,113.2" fill="#dadadd" stroke="#dadadd" stroke-width="0.5" stroke-linejoin="round"/>
<polygon points="134.2,105.2 179.2,99.2 179.2,122.2 136.2,125.2" fill="#e2e2e5" stroke="#e2e2e5" stroke-width="0.5" stroke-linejoin="round"/>
<polygon points="136.0,112.0 179.0,106.0 179.0,107.5 136.0,113.5" fill="#f2f2f5" stroke="#f2f2f5" stroke-width="0.5" stroke-linejoin="round"/>
<polygon points="136.0,120.0 179.0,114.0 179.0,115.5 136.0,121.5" fill="#f2f2f5" stroke="#f2f2f5" stroke-width="0.5" stroke-linejoin="round"/>
<polygon points="139.2,125.2 172.2,123.2 172.2,157.2 151.2,159.2" fill="#f3f3f6" stroke="#f3f3f6" stroke-width="0.5" stroke-linejoin="round"/>
<polygon points="139.2,125.2 151.2,159.2 151.2,177.2 139.2,167.2" fill="#cdcdd0" stroke="#cdcdd0" stroke-width="0.5" stroke-linejoin="round"/>
<polygon points="151.2,159.2 172.2,157.2 173.0,175.0 151.2,177.2" fill="#d6d6d9" stroke="#d6d6d9" stroke-width="0.5" stroke-linejoin="round"/>
<polygon points="136.7,0.0 150.6,0.0 202.0,68.0 193.0,70.0" fill="#e5e5e8" stroke="#e5e5e8" stroke-width="0.5" stroke-linejoin="round"/>
<polygon points="136.7,0.0 140.5,0.0 196.0,68.5 193.0,70.0" fill="#f5f5f8" stroke="#f5f5f8" stroke-width="0.5" stroke-linejoin="round"/>
<polygon points="147.0,0.0 150.6,0.0 202.0,68.0 199.0,68.5" fill="#f2f2f5" stroke="#f2f2f5" stroke-width="0.5" stroke-linejoin="round"/>
<polygon points="152.0,16.0 174.0,13.0 174.0,16.0 152.0,19.0" fill="#f3f3f6" stroke="#f3f3f6" stroke-width="0.5" stroke-linejoin="round"/>
<polygon points="164.0,0.0 192.2,0.0 192.2,42.7 166.2,18.2" fill="#c6c6c9" stroke="#c6c6c9" stroke-width="0.5" stroke-linejoin="round"/>
<polygon points="192.2,0.0 205.0,0.0 205.0,38.0 192.2,42.7" fill="#dadadd" stroke="#dadadd" stroke-width="0.5" stroke-linejoin="round"/>
<polygon points="202.6,23.5 213.1,12.2 228.7,11.4 232.2,6.2 242.5,4.4 242.5,42.7 228.7,42.7" fill="#f3f3f6" stroke="#f3f3f6" stroke-width="0.5" stroke-linejoin="round"/>
<polygon points="197.4,25.2 202.6,23.5 228.7,42.7 228.2,69.2 196.5,68.8" fill="#c9c9cc" stroke="#c9c9cc" stroke-width="0.5" stroke-linejoin="round"/>
<polygon points="228.7,42.7 242.5,42.7 242.5,67.0 228.2,69.2" fill="#d9d9dc" stroke="#d9d9dc" stroke-width="0.5" stroke-linejoin="round"/>
<polygon points="185.2,72.2 235.7,64.4 242.5,65.2 242.5,121.8 232.2,123.5 209.6,99.2" fill="#f3f3f6" stroke="#f3f3f6" stroke-width="0.5" stroke-linejoin="round"/>
<polygon points="183.5,74.0 185.2,72.2 209.6,99.2 232.2,123.5 232.2,235.0 207.8,236.8 175.2,199.2 173.2,187.2" fill="#c6c6c9" stroke="#c6c6c9" stroke-width="0.5" stroke-linejoin="round"/>
<polygon points="194.5,82.0 198.5,86.0 190.5,236.0 186.5,230.0" fill="#d5d5d8" stroke="#d5d5d8" stroke-width="0.5" stroke-linejoin="round"/>
<polygon points="232.2,123.5 242.5,121.8 242.5,236.0 211.4,237.0" fill="#d8d8db" stroke="#d8d8db" stroke-width="0.5" stroke-linejoin="round"/>
<polygon points="233.2,125.0 236.8,124.5 216.5,237.0 212.8,237.0" fill="#e4e4e7" stroke="#e4e4e7" stroke-width="0.5" stroke-linejoin="round"/>
<polygon points="0.0,196.0 28.5,196.0 28.5,178.0 26.0,178.0" fill="#cfcfd2" stroke="#cfcfd2" stroke-width="0.5" stroke-linejoin="round"/>
<polygon points="0.2,201.2 6.7,192.2 8.9,198.9 50.2,196.8 53.5,216.2 52.2,229.2 39.2,231.2 36.2,251.2 26.2,251.2 21.9,240.2 0.2,253.2" fill="#f3f3f6" stroke="#f3f3f6" stroke-width="0.5" stroke-linejoin="round"/>
<polygon points="21.9,240.2 26.2,251.2 36.2,251.2 36.2,265.0 22.0,265.0" fill="#c8c8cb" stroke="#c8c8cb" stroke-width="0.5" stroke-linejoin="round"/>
<polygon points="39.2,231.2 52.2,229.2 53.0,245.0 36.2,251.2" fill="#cccccf" stroke="#cccccf" stroke-width="0.5" stroke-linejoin="round"/>
<polygon points="0.2,253.2 21.9,240.2 22.0,265.0 11.0,277.0 0.0,282.0" fill="#d6d6d9" stroke="#d6d6d9" stroke-width="0.5" stroke-linejoin="round"/>
<polygon points="12.0,269.0 66.0,261.0 66.0,263.0 12.0,271.0" fill="#f3f3f6" stroke="#f3f3f6" stroke-width="0.5" stroke-linejoin="round"/>
<polygon points="18.0,281.0 72.0,273.0 72.0,275.0 18.0,283.0" fill="#f3f3f6" stroke="#f3f3f6" stroke-width="0.5" stroke-linejoin="round"/>
<polygon points="28.2,127.2 36.2,125.2 52.2,175.2 98.2,302.5 81.2,302.5 39.2,187.2" fill="#f3f3f6" stroke="#f3f3f6" stroke-width="0.5" stroke-linejoin="round"/>
<polygon points="72.0,278.0 198.0,251.0 242.5,236.0 242.5,249.0 206.0,262.0 126.0,279.0 81.0,290.0" fill="#f5f5f8" stroke="#f5f5f8" stroke-width="0.5" stroke-linejoin="round"/>
<polygon points="0.0,289.0 76.0,278.0 81.0,290.0 0.0,300.0" fill="#f3f3f6" stroke="#f3f3f6" stroke-width="0.5" stroke-linejoin="round"/>
<polygon points="81.0,290.0 242.5,261.0 242.5,263.0 81.0,293.0" fill="#f3f3f6" stroke="#f3f3f6" stroke-width="0.5" stroke-linejoin="round"/>
<polygon points="168.2,181.2 177.2,177.2 210.2,241.2 192.2,249.2" fill="#f5f5f8" stroke="#f5f5f8" stroke-width="0.5" stroke-linejoin="round"/>
<ellipse cx="216" cy="267" rx="16" ry="7" fill="#cdcdd0" stroke="#f3f3f6" stroke-width="1"/>
<polyline points="200,262 205,277 201,283 236,285 242,280" fill="none" stroke="#f3f3f6" stroke-width="0.9"/>
<polyline points="232,262 240,266 238,276 242,290" fill="none" stroke="#f3f3f6" stroke-width="0.9"/>
<polygon points="210.5,269.0 214.3,251.2 218.0,250.6 221.0,269.0" fill="#bcbcbf" stroke="#bcbcbf" stroke-width="0.5" stroke-linejoin="round"/>
<polygon points="216.5,251.0 218.0,250.6 221.0,269.0 218.5,269.0" fill="#cfcfd2" stroke="#cfcfd2" stroke-width="0.5" stroke-linejoin="round"/>
<text x="97" y="280" transform="rotate(-13 97 280)" font-size="3.6" fill="#999" font-family="Liberation Sans, sans-serif">W Cesar Chavez St</text></g></g>
<g clip-path="url(#cpp2)"><polygon points="434.0,305.0 446.0,324.0 460.0,325.0 515.0,330.0 528.0,335.0 546.0,417.0 490.0,430.0 470.0,395.0 455.0,360.0 438.0,330.0" fill="#e6c27a" stroke="#e6c27a" stroke-width="0.5" stroke-linejoin="round"/>
<polygon points="434.0,305.0 446.0,325.7 460.0,325.0 462.0,352.0 470.0,395.0 452.0,360.0 440.0,335.0" fill="url(#p2pl)" stroke="url(#p2pl)" stroke-width="0.5" stroke-linejoin="round"/>
<polygon points="505.0,392.0 528.0,380.0 546.0,417.0 515.0,424.0" fill="#d8a68e" stroke="#d8a68e" stroke-width="0.5" stroke-linejoin="round"/>
<polygon points="468.7,385.0 524.0,376.3 528.0,389.7 478.0,403.0" fill="#ecc680" stroke="#ecc680" stroke-width="0.5" stroke-linejoin="round"/>
<polygon points="434.6,280.0 446.0,300.4 446.0,325.7 434.0,305.0" fill="#2c3572" stroke="#2c3572" stroke-width="0.5" stroke-linejoin="round"/>
<polygon points="446.0,300.4 459.4,297.8 459.4,325.0 446.0,325.7" fill="url(#p2f)" stroke="url(#p2f)" stroke-width="0.5" stroke-linejoin="round"/>
<polygon points="434.6,280.0 459.4,277.0 459.4,297.8 446.0,300.4" fill="url(#p2r)" stroke="url(#p2r)" stroke-width="0.5" stroke-linejoin="round"/>
<polygon points="508.0,324.0 532.0,322.0 530.0,368.0 508.0,370.0" fill="#5e4a9e" stroke="#5e4a9e" stroke-width="0.5" stroke-linejoin="round"/>
<polygon points="508.0,300.0 532.0,296.5 532.0,324.0 508.0,327.0" fill="url(#tan)" stroke="url(#tan)" stroke-width="0.5" stroke-linejoin="round"/>
<polygon points="516.0,324.0 526.0,322.5 527.0,334.0 517.0,336.0" fill="#e8d070" stroke="#e8d070" stroke-width="0.5" stroke-linejoin="round"/>
<polygon points="523.5,330.0 524.8,330.0 524.5,352.0 523.2,352.0" fill="#e8e0f0" stroke="#e8e0f0" stroke-width="0.5" stroke-linejoin="round"/>
<polygon points="508.0,284.0 527.0,281.5 532.0,296.5 508.0,300.0" fill="#f8ee7c" stroke="#f8ee7c" stroke-width="0.5" stroke-linejoin="round"/>
<polygon points="459.2,270.0 463.5,272.0 464.0,376.0 460.5,374.0" fill="url(#tand)" stroke="url(#tand)" stroke-width="0.5" stroke-linejoin="round"/>
<polygon points="463.5,272.0 474.5,283.0 473.0,377.0 464.0,376.0" fill="url(#tan2)" stroke="url(#tan2)" stroke-width="0.5" stroke-linejoin="round"/>
<polygon points="474.5,283.0 517.6,274.6 513.5,372.0 473.0,377.0" fill="url(#tan)" stroke="url(#tan)" stroke-width="0.5" stroke-linejoin="round"/>
<polygon points="459.2,269.7 502.3,262.8 517.6,274.6 474.5,283.0 471.7,278.0 463.0,278.0" fill="#f8ee7c" stroke="#f8ee7c" stroke-width="0.5" stroke-linejoin="round"/>
<polygon points="474.5,283.0 517.6,274.6 517.6,276.4 474.5,285.0" fill="#e0c45e" stroke="#e0c45e" stroke-width="0.5" stroke-linejoin="round"/>
<polygon points="468.7,377.0 512.7,370.6 513.6,377.3 469.6,385.0" fill="#dab070" stroke="#dab070" stroke-width="0.5" stroke-linejoin="round"/>
<polygon points="485.9,420.3 507.0,416.5 516.0,418.0 518.0,426.0 490.0,431.0" fill="#d6ae62" stroke="#d6ae62" stroke-width="0.5" stroke-linejoin="round"/>
<polygon points="479.2,405.0 485.9,420.3 487.0,426.0 480.0,412.0" fill="#c49a58" stroke="#c49a58" stroke-width="0.5" stroke-linejoin="round"/>
<polygon points="479.2,405.0 501.2,400.2 507.0,416.5 485.9,420.3" fill="#eccb74" stroke="#eccb74" stroke-width="0.5" stroke-linejoin="round"/>
<polygon points="537.5,224.7 569.6,267.2 552.9,271.4 540.0,405.0 546.2,415.9 524.0,392.0 531.5,295.0 536.0,229.0" fill="url(#tand)" stroke="url(#tand)" stroke-width="0.5" stroke-linejoin="round"/>
<polygon points="532.0,276.0 542.0,278.0 540.0,374.0 526.0,378.0" fill="url(#p2m)" stroke="url(#p2m)" stroke-width="0.5" stroke-linejoin="round"/>
<polygon points="531.5,276.0 537.0,277.0 535.0,374.0 525.5,378.0" fill="url(#p2p)" stroke="url(#p2p)" stroke-width="0.5" stroke-linejoin="round"/>
<polygon points="552.9,271.4 562.6,284.6 546.2,415.9 540.0,405.0" fill="url(#tan2)" stroke="url(#tan2)" stroke-width="0.5" stroke-linejoin="round"/>
<polygon points="562.6,284.6 605.2,277.0 585.2,410.3 546.2,415.9" fill="url(#tan)" stroke="url(#tan)" stroke-width="0.5" stroke-linejoin="round"/>
<polygon points="537.5,224.7 559.1,223.4 605.2,277.0 562.6,284.6 552.9,271.4 569.6,267.2" fill="#f8ee7c" stroke="#f8ee7c" stroke-width="0.5" stroke-linejoin="round"/>
<polygon points="562.6,284.6 605.2,277.0 605.0,279.0 562.5,286.5" fill="#e0c45e" stroke="#e0c45e" stroke-width="0.5" stroke-linejoin="round"/></g>
<g transform="translate(656.8,161.5)" clip-path="url(#cp)"><g><polygon points="0.0,0.0 242.5,0.0 242.5,302.5 0.0,302.5" fill="#cfd0d3" stroke="#cfd0d3" stroke-width="0.5" stroke-linejoin="round"/>
<polygon points="0.0,0.0 55.0,0.0 55.0,20.0 0.0,21.0" fill="#cccccf" stroke="#cccccf" stroke-width="0.5" stroke-linejoin="round"/>
<polygon points="0.0,55.2 11.7,53.4 26.0,51.5 28.5,52.0 28.5,196.0 0.0,196.0" fill="#cacacd" stroke="#cacacd" stroke-width="0.5" stroke-linejoin="round"/>
<polygon points="0.0,21.3 10.1,20.8 21.1,33.9 22.1,43.0 11.7,53.4 10.6,53.4 10.6,65.7 0.0,66.5" fill="#f3f3f6" stroke="#f3f3f6" stroke-width="0.5" stroke-linejoin="round"/>
<polygon points="10.8,53.4 25.6,51.7 25.6,65.6 10.8,67.3" fill="#c2c2c5" stroke="#c2c2c5" stroke-width="0.5" stroke-linejoin="round"/>
<polygon points="0.0,66.5 10.8,65.7 10.8,75.0 0.0,76.0" fill="#dedee1" stroke="#dedee1" stroke-width="0.5" stroke-linejoin="round"/>
<polygon points="18.0,66.0 28.5,65.0 28.5,196.0 18.0,196.0" fill="#d0d0d3" stroke="#d0d0d3" stroke-width="0.5" stroke-linejoin="round"/>
<polygon points="28.5,50.0 34.0,50.0 38.0,137.0 28.5,137.0" fill="#e3e3e6" stroke="#e3e3e6" stroke-width="0.5" stroke-linejoin="round"/>
<polygon points="55.0,0.0 80.0,0.0 80.0,24.0 64.0,24.0" fill="#c8c8cb" stroke="#c8c8cb" stroke-width="0.5" stroke-linejoin="round"/>
<polygon points="22.1,33.4 56.9,29.9 60.4,38.1 23.8,43.0" fill="#f3f3f6" stroke="#f3f3f6" stroke-width="0.5" stroke-linejoin="round"/>
<polygon points="23.8,43.0 60.4,38.1 61.2,41.2 24.7,46.5" fill="#d9d9dc" stroke="#d9d9dc" stroke-width="0.5" stroke-linejoin="round"/>
<polygon points="28.0,46.5 58.0,42.0 58.0,50.0 34.0,52.0" fill="#c6c6c9" stroke="#c6c6c9" stroke-width="0.5" stroke-linejoin="round"/>
<polygon points="42.1,51.7 69.1,49.1 74.3,56.9 46.5,60.4" fill="#f2f2f5" stroke="#f2f2f5" stroke-width="0.5" stroke-linejoin="round"/>
<polygon points="46.5,60.4 74.3,56.9 76.0,65.6 51.7,67.3" fill="#d5d5d8" stroke="#d5d5d8" stroke-width="0.5" stroke-linejoin="round"/>
<polygon points="34.0,70.0 70.0,67.0 76.0,66.0 78.0,72.0 40.0,75.0" fill="#c8c8cb" stroke="#c8c8cb" stroke-width="0.5" stroke-linejoin="round"/>
<polygon points="27.3,72.5 51.7,70.8 55.2,89.9 29.1,93.4" fill="#f2f2f5" stroke="#f2f2f5" stroke-width="0.5" stroke-linejoin="round"/>
<polygon points="51.7,70.8 72.0,69.0 76.0,88.0 55.2,89.9" fill="#d8d8db" stroke="#d8d8db" stroke-width="0.5" stroke-linejoin="round"/>
<polygon points="49.9,70.2 84.7,68.8 91.6,84.1 56.8,86.9" fill="#f3f3f6" stroke="#f3f3f6" stroke-width="0.5" stroke-linejoin="round"/>
<polygon points="56.8,86.9 91.6,84.1 92.0,92.0 58.0,95.0" fill="#d6d6d9" stroke="#d6d6d9" stroke-width="0.5" stroke-linejoin="round"/>
<polygon points="72.1,89.7 100.0,88.3 102.7,98.0 74.9,100.8" fill="#f2f2f5" stroke="#f2f2f5" stroke-width="0.5" stroke-linejoin="round"/>
<polygon points="29.1,93.4 55.2,89.9 56.0,96.0 30.0,99.0" fill="#efeff2" stroke="#efeff2" stroke-width="0.5" stroke-linejoin="round"/>
<polygon points="30.0,99.0 56.8,95.0 56.8,112.3 30.0,114.7" fill="#f2f2f5" stroke="#f2f2f5" stroke-width="0.5" stroke-linejoin="round"/>
<polygon points="30.0,114.7 56.8,112.3 56.8,119.0 31.0,122.0" fill="#cdcdd0" stroke="#cdcdd0" stroke-width="0.5" stroke-linejoin="round"/>
<polygon points="53.0,0.0 65.0,0.0 77.7,28.5 91.6,63.3 108.3,98.0 120.0,122.0 112.0,125.0 98.6,98.0 79.0,63.3 65.2,28.5" fill="#efeff2" stroke="#efeff2" stroke-width="0.5" stroke-linejoin="round"/>
<polygon points="53.0,0.0 57.0,0.0 69.0,28.5 83.0,63.3 102.6,98.0 116.0,125.0 112.0,125.0 98.6,98.0 79.0,63.3 65.2,28.5" fill="#f5f5f8" stroke="#f5f5f8" stroke-width="0.5" stroke-linejoin="round"/>
<polygon points="62.0,0.0 65.0,0.0 77.7,28.5 91.6,63.3 108.3,98.0 120.0,122.0 117.0,122.0 105.5,98.0 88.6,63.3 74.7,28.5" fill="#f2f2f5" stroke="#f2f2f5" stroke-width="0.5" stroke-linejoin="round"/>
<polygon points="80.0,0.0 87.0,0.0 87.0,19.0 80.0,22.0" fill="#cbcbce" stroke="#cbcbce" stroke-width="0.5" stroke-linejoin="round"/>
<polygon points="87.2,0.0 100.2,0.0 100.2,18.6 88.9,18.6" fill="#dadadd" stroke="#dadadd" stroke-width="0.5" stroke-linejoin="round"/>
<polygon points="101.0,3.0 132.4,0.4 137.6,7.3 104.5,10.8" fill="#f1f1f4" stroke="#f1f1f4" stroke-width="0.5" stroke-linejoin="round"/>
<polygon points="104.5,10.8 137.6,7.3 137.6,12.5 106.3,16.0" fill="#d2d2d5" stroke="#d2d2d5" stroke-width="0.5" stroke-linejoin="round"/>
<polygon points="111.5,16.0 149.8,13.1 158.5,28.2 124.5,31.7" fill="#f2f2f5" stroke="#f2f2f5" stroke-width="0.5" stroke-linejoin="round"/>
<polygon points="124.5,31.7 158.5,28.2 159.3,33.4 125.4,36.9" fill="#e0e0e3" stroke="#e0e0e3" stroke-width="0.5" stroke-linejoin="round"/>
<polygon points="111.5,16.0 124.5,31.7 125.4,36.9 126.0,43.0 112.0,30.0" fill="#cfcfd2" stroke="#cfcfd2" stroke-width="0.5" stroke-linejoin="round"/>
<polygon points="125.4,36.9 159.3,33.4 160.0,43.0 127.0,46.0" fill="#d3d3d6" stroke="#d3d3d6" stroke-width="0.5" stroke-linejoin="round"/>
<polygon points="80.2,23.9 113.2,22.1 117.6,34.3 83.7,36.9" fill="#f2f2f5" stroke="#f2f2f5" stroke-width="0.5" stroke-linejoin="round"/>
<polygon points="83.7,36.9 117.6,34.3 118.5,41.2 84.5,44.7" fill="#d3d3d6" stroke="#d3d3d6" stroke-width="0.5" stroke-linejoin="round"/>
<polygon points="127.0,46.0 160.0,43.0 161.0,50.0 128.0,52.0" fill="#e4e4e7" stroke="#e4e4e7" stroke-width="0.5" stroke-linejoin="round"/>
<polygon points="102.8,58.6 137.6,53.4 160.0,80.0 160.0,95.0 122.0,100.0" fill="#f2f2f5" stroke="#f2f2f5" stroke-width="0.5" stroke-linejoin="round"/>
<polygon points="102.8,58.6 122.0,100.0 122.0,140.0 103.0,110.0" fill="#d6d6d9" stroke="#d6d6d9" stroke-width="0.5" stroke-linejoin="round"/>
<polygon points="122.0,100.0 160.0,95.0 178.0,120.0 178.0,140.0 122.0,140.0" fill="#e3e3e6" stroke="#e3e3e6" stroke-width="0.5" stroke-linejoin="round"/>
<polygon points="141.0,51.7 160.2,50.0 166.0,60.0 166.0,69.0 146.3,70.8" fill="#efeff2" stroke="#efeff2" stroke-width="0.5" stroke-linejoin="round"/>
<polygon points="137.7,67.2 161.2,67.2 162.2,86.2 137.7,92.2" fill="#f3f3f6" stroke="#f3f3f6" stroke-width="0.5" stroke-linejoin="round"/>
<polygon points="137.7,92.2 162.2,86.2 162.2,105.2 137.7,113.2" fill="#dadadd" stroke="#dadadd" stroke-width="0.5" stroke-linejoin="round"/>
<polygon points="134.2,105.2 179.2,99.2 179.2,122.2 136.2,125.2" fill="#e2e2e5" stroke="#e2e2e5" stroke-width="0.5" stroke-linejoin="round"/>
<polygon points="136.0,112.0 179.0,106.0 179.0,107.5 136.0,113.5" fill="#f2f2f5" stroke="#f2f2f5" stroke-width="0.5" stroke-linejoin="round"/>
<polygon points="136.0,120.0 179.0,114.0 179.0,115.5 136.0,121.5" fill="#f2f2f5" stroke="#f2f2f5" stroke-width="0.5" stroke-linejoin="round"/>
<polygon points="139.2,125.2 172.2,123.2 172.2,157.2 151.2,159.2" fill="#f3f3f6" stroke="#f3f3f6" stroke-width="0.5" stroke-linejoin="round"/>
<polygon points="139.2,125.2 151.2,159.2 151.2,177.2 139.2,167.2" fill="#cdcdd0" stroke="#cdcdd0" stroke-width="0.5" stroke-linejoin="round"/>
<polygon points="151.2,159.2 172.2,157.2 173.0,175.0 151.2,177.2" fill="#d6d6d9" stroke="#d6d6d9" stroke-width="0.5" stroke-linejoin="round"/>
<polygon points="136.7,0.0 150.6,0.0 202.0,68.0 193.0,70.0" fill="#e5e5e8" stroke="#e5e5e8" stroke-width="0.5" stroke-linejoin="round"/>
<polygon points="136.7,0.0 140.5,0.0 196.0,68.5 193.0,70.0" fill="#f5f5f8" stroke="#f5f5f8" stroke-width="0.5" stroke-linejoin="round"/>
<polygon points="147.0,0.0 150.6,0.0 202.0,68.0 199.0,68.5" fill="#f2f2f5" stroke="#f2f2f5" stroke-width="0.5" stroke-linejoin="round"/>
<polygon points="152.0,16.0 174.0,13.0 174.0,16.0 152.0,19.0" fill="#f3f3f6" stroke="#f3f3f6" stroke-width="0.5" stroke-linejoin="round"/>
<polygon points="164.0,0.0 192.2,0.0 192.2,42.7 166.2,18.2" fill="#c6c6c9" stroke="#c6c6c9" stroke-width="0.5" stroke-linejoin="round"/>
<polygon points="192.2,0.0 205.0,0.0 205.0,38.0 192.2,42.7" fill="#dadadd" stroke="#dadadd" stroke-width="0.5" stroke-linejoin="round"/>
<polygon points="202.6,23.5 213.1,12.2 228.7,11.4 232.2,6.2 242.5,4.4 242.5,42.7 228.7,42.7" fill="#f3f3f6" stroke="#f3f3f6" stroke-width="0.5" stroke-linejoin="round"/>
<polygon points="197.4,25.2 202.6,23.5 228.7,42.7 228.2,69.2 196.5,68.8" fill="#c9c9cc" stroke="#c9c9cc" stroke-width="0.5" stroke-linejoin="round"/>
<polygon points="228.7,42.7 242.5,42.7 242.5,67.0 228.2,69.2" fill="#d9d9dc" stroke="#d9d9dc" stroke-width="0.5" stroke-linejoin="round"/>
<polygon points="185.2,72.2 235.7,64.4 242.5,65.2 242.5,121.8 232.2,123.5 209.6,99.2" fill="#f3f3f6" stroke="#f3f3f6" stroke-width="0.5" stroke-linejoin="round"/>
<polygon points="183.5,74.0 185.2,72.2 209.6,99.2 232.2,123.5 232.2,235.0 207.8,236.8 175.2,199.2 173.2,187.2" fill="#c6c6c9" stroke="#c6c6c9" stroke-width="0.5" stroke-linejoin="round"/>
<polygon points="194.5,82.0 198.5,86.0 190.5,236.0 186.5,230.0" fill="#d5d5d8" stroke="#d5d5d8" stroke-width="0.5" stroke-linejoin="round"/>
<polygon points="232.2,123.5 242.5,121.8 242.5,236.0 211.4,237.0" fill="#d8d8db" stroke="#d8d8db" stroke-width="0.5" stroke-linejoin="round"/>
<polygon points="233.2,125.0 236.8,124.5 216.5,237.0 212.8,237.0" fill="#e4e4e7" stroke="#e4e4e7" stroke-width="0.5" stroke-linejoin="round"/>
<polygon points="0.0,196.0 28.5,196.0 28.5,178.0 26.0,178.0" fill="#cfcfd2" stroke="#cfcfd2" stroke-width="0.5" stroke-linejoin="round"/>
<polygon points="0.2,201.2 6.7,192.2 8.9,198.9 50.2,196.8 53.5,216.2 52.2,229.2 39.2,231.2 36.2,251.2 26.2,251.2 21.9,240.2 0.2,253.2" fill="#f3f3f6" stroke="#f3f3f6" stroke-width="0.5" stroke-linejoin="round"/>
<polygon points="21.9,240.2 26.2,251.2 36.2,251.2 36.2,265.0 22.0,265.0" fill="#c8c8cb" stroke="#c8c8cb" stroke-width="0.5" stroke-linejoin="round"/>
<polygon points="39.2,231.2 52.2,229.2 53.0,245.0 36.2,251.2" fill="#cccccf" stroke="#cccccf" stroke-width="0.5" stroke-linejoin="round"/>
<polygon points="0.2,253.2 21.9,240.2 22.0,265.0 11.0,277.0 0.0,282.0" fill="#d6d6d9" stroke="#d6d6d9" stroke-width="0.5" stroke-linejoin="round"/>
<polygon points="12.0,269.0 66.0,261.0 66.0,263.0 12.0,271.0" fill="#f3f3f6" stroke="#f3f3f6" stroke-width="0.5" stroke-linejoin="round"/>
<polygon points="18.0,281.0 72.0,273.0 72.0,275.0 18.0,283.0" fill="#f3f3f6" stroke="#f3f3f6" stroke-width="0.5" stroke-linejoin="round"/>
<polygon points="28.2,127.2 36.2,125.2 52.2,175.2 98.2,302.5 81.2,302.5 39.2,187.2" fill="#f3f3f6" stroke="#f3f3f6" stroke-width="0.5" stroke-linejoin="round"/>
<polygon points="72.0,278.0 198.0,251.0 242.5,236.0 242.5,249.0 206.0,262.0 126.0,279.0 81.0,290.0" fill="#f5f5f8" stroke="#f5f5f8" stroke-width="0.5" stroke-linejoin="round"/>
<polygon points="0.0,289.0 76.0,278.0 81.0,290.0 0.0,300.0" fill="#f3f3f6" stroke="#f3f3f6" stroke-width="0.5" stroke-linejoin="round"/>
<polygon points="81.0,290.0 242.5,261.0 242.5,263.0 81.0,293.0" fill="#f3f3f6" stroke="#f3f3f6" stroke-width="0.5" stroke-linejoin="round"/>
<polygon points="168.2,181.2 177.2,177.2 210.2,241.2 192.2,249.2" fill="#f5f5f8" stroke="#f5f5f8" stroke-width="0.5" stroke-linejoin="round"/>
<ellipse cx="216" cy="267" rx="16" ry="7" fill="#cdcdd0" stroke="#f3f3f6" stroke-width="1"/>
<polyline points="200,262 205,277 201,283 236,285 242,280" fill="none" stroke="#f3f3f6" stroke-width="0.9"/>
<polyline points="232,262 240,266 238,276 242,290" fill="none" stroke="#f3f3f6" stroke-width="0.9"/>
<polygon points="210.5,269.0 214.3,251.2 218.0,250.6 221.0,269.0" fill="#bcbcbf" stroke="#bcbcbf" stroke-width="0.5" stroke-linejoin="round"/>
<polygon points="216.5,251.0 218.0,250.6 221.0,269.0 218.5,269.0" fill="#cfcfd2" stroke="#cfcfd2" stroke-width="0.5" stroke-linejoin="round"/>
<text x="97" y="280" transform="rotate(-13 97 280)" font-size="3.6" fill="#999" font-family="Liberation Sans, sans-serif">W Cesar Chavez St</text></g></g>
<g clip-path="url(#cpp3)"><polygon points="697.0,303.0 723.0,300.0 740.0,392.0 745.0,410.0 720.0,360.0" fill="#e6c07c" stroke="#e6c07c" stroke-width="0.5" stroke-linejoin="round"/>
<polygon points="700.0,305.0 711.3,327.0 723.0,325.0 728.0,350.0 712.0,352.0" fill="url(#p2pl)" stroke="url(#p2pl)" stroke-width="0.5" stroke-linejoin="round"/>
<polygon points="711.3,327.0 723.0,325.0 723.0,340.0 713.0,345.0" fill="#a878b0" stroke="#a878b0" stroke-width="0.5" stroke-linejoin="round"/>
<polygon points="699.8,279.8 711.3,299.7 711.3,326.8 699.8,304.9" fill="#2c3572" stroke="#2c3572" stroke-width="0.5" stroke-linejoin="round"/>
<polygon points="711.3,299.7 723.0,297.6 723.0,324.7 711.3,326.8" fill="url(#p2f)" stroke="url(#p2f)" stroke-width="0.5" stroke-linejoin="round"/>
<polygon points="699.8,279.8 723.0,275.7 723.0,297.6 711.3,299.7" fill="url(#p2r)" stroke="url(#p2r)" stroke-width="0.5" stroke-linejoin="round"/>
<polygon points="723.3,268.3 727.0,275.6 735.3,275.6 735.3,400.0 739.6,392.0 724.7,369.0" fill="url(#tand)" stroke="url(#tand)" stroke-width="0.5" stroke-linejoin="round"/>
<polygon points="735.3,275.6 736.0,280.5 742.8,280.0 743.7,272.4 741.2,412.0 735.3,400.0" fill="url(#tan2)" stroke="url(#tan2)" stroke-width="0.5" stroke-linejoin="round"/>
<polygon points="723.3,268.3 767.2,260.4 769.2,264.6 743.7,272.4 742.8,280.0 736.0,280.5 735.3,275.6 727.0,275.6" fill="#f8ee7c" stroke="#f8ee7c" stroke-width="0.5" stroke-linejoin="round"/>
<polygon points="775.0,274.0 782.8,272.4 782.8,276.6 775.0,278.2" fill="#b89258" stroke="#b89258" stroke-width="0.5" stroke-linejoin="round"/>
<polygon points="771.3,264.6 778.6,264.1 782.8,272.4 775.0,274.0" fill="#f8ee7c" stroke="#f8ee7c" stroke-width="0.5" stroke-linejoin="round"/>
<polygon points="743.7,272.4 759.9,299.0 754.0,433.0 741.2,412.0" fill="url(#tand)" stroke="url(#tand)" stroke-width="0.5" stroke-linejoin="round"/>
<polygon points="759.9,299.0 865.8,278.5 845.0,408.0 754.0,433.0" fill="url(#tan)" stroke="url(#tan)" stroke-width="0.5" stroke-linejoin="round"/>
<polygon points="743.7,272.4 771.3,269.3 774.5,278.2 852.5,264.8 865.8,278.1 759.9,299.0" fill="#f8ee7c" stroke="#f8ee7c" stroke-width="0.5" stroke-linejoin="round"/>
<polygon points="759.9,299.0 865.8,278.1 865.8,280.0 759.9,301.0" fill="#e0c45e" stroke="#e0c45e" stroke-width="0.5" stroke-linejoin="round"/></g></svg>
<div class="frame"></div>
<div class="t1">Sun Hours Analysis – June 21</div>
<div class="t2">Time façades receive direct sun for at least three hours.</div>
<div class="lbl" style="left:217px;top:148px;">Proposal 01</div>
<div class="lbl" style="left:489px;top:147px;">Proposal 10</div>
<div class="lbl" style="left:751px;top:148px;">Proposal 07</div>
<div class="pct" style="left:228px;top:473px;">62%</div>
<div class="pct" style="left:497px;top:470px;">68%</div>
<div class="pct" style="left:759px;top:472px;">79%</div>
<div class="cb">
<div style="background:#46609a"></div><div style="background:#7c5c9e"></div><div style="background:#b073a6"></div><div style="background:#c98093"></div><div style="background:#d9957f"></div><div style="background:#e0a97c"></div><div style="background:#e7c17c"></div><div style="background:#ecd47a"></div><div style="background:#f3e479"></div><div style="background:#fcf171"></div>
</div>
<div class="cbline"></div>
<div style="position:absolute;left:375px;top:511px;width:2px;height:8px;background:#111"></div>
<div style="position:absolute;left:646px;top:511px;width:2px;height:8px;background:#111"></div>
<div class="cbl" style="left:378px;">hrs</div>
<div class="cbl" style="left:401px;">1</div>
<div class="cbl" style="left:428px;">2</div>
<div class="cbl" style="left:455px;">3</div>
<div class="cbl" style="left:482px;">4</div>
<div class="cbl" style="left:509px;">5</div>
<div class="cbl" style="left:537px;">6</div>
<div class="cbl" style="left:564px;">7</div>
<div class="cbl" style="left:591px;">8</div>
<div class="cbl" style="left:618px;">9</div>
</body></html>
